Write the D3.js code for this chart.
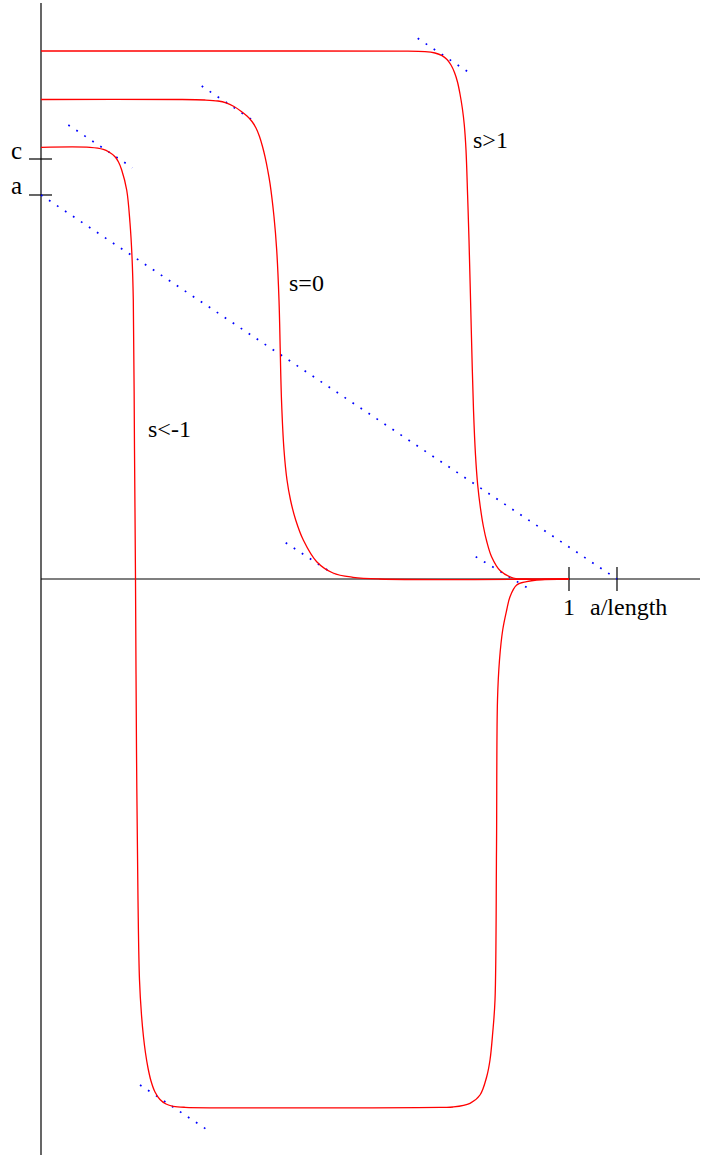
<!DOCTYPE html>
<html>
<head>
<meta charset="utf-8">
<script src="https://cdn.jsdelivr.net/npm/d3@7"></script>
<style>
html,body{margin:0;padding:0;background:#fff;}
svg{display:block;}
text{font-family:"Liberation Serif","Times New Roman",serif;font-size:24px;fill:#000;}
</style>
</head>
<body>
<svg id="chart" width="701" height="1157"></svg>
<script>
// Data (x in units of length, y in units of c)
const curveNames = ["s>1", "s=0", "s<-1"];
const pxToData = p => [(p[0] - 41) / 528, (579 - p[1]) / 420]; // conversion of read pixel positions
const curveSgt1Px = [[41,51],[300,51],[400,51.1],[425,51.6],[435,53],[442,55.6],[447,59.5],[451,65],[454.5,72.5],[457.5,82],[460,94],[462.3,108],[464.3,125],[466,150],[467.6,195],[469,240],[470.3,290],[471.8,350],[473.5,410],[475.5,455],[477.7,485],[480.3,507],[483.3,526],[486.9,542],[491.7,557],[500,570.5],[513.3,578],[526.7,579],[569,579]];
const curveS0Px = [[41,99.5],[180,99.5],[205,100],[218,101],[226,102.8],[234,106.5],[241,111.2],[247,116],[252,121.5],[256,128],[259.5,136.5],[262.5,146.5],[265,156.7],[267.7,170],[270,183.3],[274,216.7],[276.7,250],[279,300],[281.5,400],[284,450],[287,480],[290.5,500],[295.7,520],[303.3,540],[316.7,561.7],[333,573],[353,577.3],[380,579],[569,579]];
const curveSltm1Px = [[41,147.3],[90,147.3],[103.3,149.3],[109,152],[115,156.7],[118.5,162],[121.7,170],[126.7,190],[130,223],[132,256.7],[133.3,300],[134.5,450],[135.5,579],[136.5,750],[138,900],[139.5,980],[141.5,1015],[143.5,1037],[145.5,1053],[148,1068],[151,1081],[155,1092],[160,1099.5],[166,1104],[173.3,1106.3],[185,1107.3],[440,1107.3],[453,1107],[470,1103.3],[480,1095],[486.7,1076.7],[490,1060],[492.7,1033],[495,1000],[496.5,850],[497.5,700],[499.5,660],[502.7,630],[506.7,610],[510,596.7],[516.7,585],[526.7,581.7],[536.7,580],[569,579]];
const mainLinePx = [[41,195],[617,579]];
const tangentSegsPx = [
  [[417.7,38.3],[472.7,75]],
  [[201.7,86],[257.3,123.3]],
  [[68.3,125],[132.3,167.7]],
  [[285.7,542.7],[334,574.3]],
  [[475.7,556.7],[532.7,591]],
  [[140,1085],[209,1131]]
];
const yTickValues = [1, 0.9143];
const yTickLabels = ["c", "a"];
const xTickValues = [1, 1.0909];
const xTickLabels = ["1", "a/length"];
const curveLabelPos = [[0.8182,1.0262], [0.4697,0.6857], [0.2027,0.3381]];

const curveSgt1 = curveSgt1Px.map(pxToData);
const curveS0 = curveS0Px.map(pxToData);
const curveSltm1 = curveSltm1Px.map(pxToData);
const mainLine = mainLinePx.map(pxToData);
const tangentSegs = tangentSegsPx.map(s => s.map(pxToData));

const svg = d3.select("#chart");
const x = d3.scaleLinear().domain([0, 1]).range([41, 569]);
const y = d3.scaleLinear().domain([0, 1]).range([579, 159]);
const xMax = x.invert(700);
const yTop = y.invert(3), yBot = y.invert(1155);

// axes
svg.append("line").attr("x1", x(0)).attr("x2", x(0)).attr("y1", y(yTop)).attr("y2", y(yBot))
  .attr("stroke", "#000").attr("stroke-width", 1.2);
svg.append("line").attr("x1", x(0)).attr("x2", x(xMax)).attr("y1", y(0)).attr("y2", y(0))
  .attr("stroke", "#000").attr("stroke-width", 1.2);

// y ticks
yTickValues.forEach((v, i) => {
  svg.append("line").attr("x1", x(0) - 12).attr("x2", x(0) + 11).attr("y1", y(v)).attr("y2", y(v))
    .attr("stroke", "#000").attr("stroke-width", 1.2);
  svg.append("text").attr("x", 22).attr("y", y(v) - 0.5).attr("text-anchor", "end")
    .style("font-size", "25px").text(yTickLabels[i]);
});
// x ticks
xTickValues.forEach((v, i) => {
  svg.append("line").attr("x1", x(v)).attr("x2", x(v)).attr("y1", y(0) - 12).attr("y2", y(0) + 12)
    .attr("stroke", "#000").attr("stroke-width", 1.2);
  svg.append("text").attr("x", i === 0 ? x(v) : x(v) - 27).attr("y", 615)
    .attr("text-anchor", i === 0 ? "middle" : "start").text(xTickLabels[i]);
});

// dotted lines
const ln = d3.line().x(d => x(d[0])).y(d => y(d[1]));
[mainLine, ...tangentSegs].forEach(seg => {
  svg.append("path").attr("d", ln(seg)).attr("fill", "none")
    .attr("stroke", "#0000ff").attr("stroke-width", 1.7).attr("stroke-dasharray", "1.8 7.8");
});

// curves
const cl = d3.line().x(d => x(d[0])).y(d => y(d[1])).curve(d3.curveCatmullRom.alpha(0.5));
[curveSgt1, curveS0, curveSltm1].forEach(c => {
  svg.append("path").attr("d", cl(c)).attr("fill", "none").attr("stroke", "#ff0000").attr("stroke-width", 1.3);
});

// labels
curveNames.forEach((n, i) => {
  svg.append("text").attr("x", x(curveLabelPos[i][0])).attr("y", y(curveLabelPos[i][1])).text(n);
});
</script>
</body>
</html>
